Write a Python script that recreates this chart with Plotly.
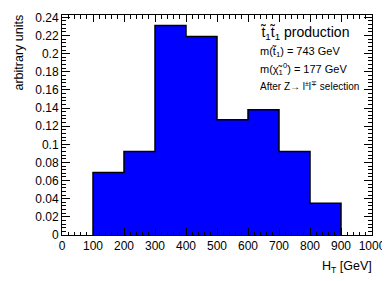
import plotly.graph_objects as go

bin_edges = [100, 200, 300, 400, 500, 600, 700, 800, 900]
bin_values = [0.069, 0.092, 0.231, 0.219, 0.127, 0.138, 0.092, 0.035]
y_ticks = [0, 0.02, 0.04, 0.06, 0.08, 0.1, 0.12, 0.14, 0.16, 0.18, 0.2, 0.22, 0.24]
y_tick_labels = ["0", "0.02", "0.04", "0.06", "0.08", "0.1", "0.12", "0.14", "0.16", "0.18", "0.2", "0.22", "0.24"]
x_ticks = [0, 100, 200, 300, 400, 500, 600, 700, 800, 900, 1000]
x_tick_labels = [str(v) for v in x_ticks]

xs = [bin_edges[0]] + bin_edges[:-1] + [bin_edges[-1], bin_edges[-1]]
ys = [0] + bin_values + [bin_values[-1], 0]

FONT = "Liberation Sans, Arial, Helvetica, sans-serif"

fig = go.Figure()
fig.add_trace(go.Scatter(
    x=xs, y=ys, mode="lines", line=dict(shape="hv", color="black", width=1.5),
    fill="tozeroy", fillcolor="#0000ff", hoverinfo="skip", showlegend=False,
))

# page has an 8px body margin; work in page pixels and convert
OFF = 8
PAGE_W, PAGE_H = 390, 281
W, H = PAGE_W - OFF, PAGE_H - OFF
plot_left, plot_right, plot_top, plot_bottom = 62, 372, 14.5, 235.5  # page pixels
L = plot_left - OFF
R = PAGE_W - plot_right
T = plot_top - OFF
B = PAGE_H - plot_bottom
pw = plot_right - plot_left
ph = plot_bottom - plot_top

def px(xpix):
    return (xpix - plot_left) / pw

def py(ypix):
    return (plot_bottom - ypix) / ph

fig.update_layout(
    width=W, height=H, margin=dict(l=L, r=R, t=T, b=B, autoexpand=False),
    paper_bgcolor="white", plot_bgcolor="white",
    font=dict(family=FONT, size=12, color="black"),
    xaxis=dict(
        range=[0, 1000], tickvals=x_ticks, ticktext=x_tick_labels, automargin=False,
        ticks="inside", ticklen=7, tickwidth=1, tickcolor="black",
        mirror="allticks", showline=True, linecolor="black", linewidth=1,
        showgrid=False, zeroline=False,
        minor=dict(ticks="inside", dtick=20, ticklen=3.5, tickcolor="black", showgrid=False),
        tickfont=dict(size=12),
    ),
    yaxis=dict(
        range=[0, 0.2426], tickvals=y_ticks, ticktext=y_tick_labels, automargin=False,
        ticks="inside", ticklen=8, tickwidth=1, tickcolor="black",
        mirror="allticks", showline=True, linecolor="black", linewidth=1,
        showgrid=False, zeroline=False,
        minor=dict(ticks="inside", dtick=0.004, ticklen=4, tickcolor="black", showgrid=False),
        tickfont=dict(size=12),
    ),
)

annots = [
    dict(text="H<sub>T</sub> [GeV]", x=px(374), y=py(268), xanchor="right", yanchor="middle", size=12.5, angle=0),
    dict(text="arbitrary units", x=px(19), y=py(12), xanchor="center", yanchor="top", size=12.5, angle=-90),
    dict(text="t\u0303<sub>1</sub>t\u0303<sub>1</sub> production", x=px(258), y=py(33), xanchor="left", yanchor="middle", size=14, angle=0),
    dict(text="m(t\u0303<sub>1</sub>) = 743 GeV", x=px(258), y=py(52), xanchor="left", yanchor="middle", size=11, angle=0),
    dict(text="m(\u03c7\u0303<sub>1</sub><sup>0</sup>) = 177 GeV", x=px(258), y=py(69), xanchor="left", yanchor="middle", size=11, angle=0),
    dict(text="After Z\u2192 l<sup>\u00b1</sup>l<sup>\u2213</sup> selection", x=px(258), y=py(86), xanchor="left", yanchor="middle", size=10, angle=0),
]
for a in annots:
    fig.add_annotation(text=a["text"], x=a["x"], y=a["y"], xref="paper", yref="paper",
                       xanchor=a["xanchor"], yanchor=a["yanchor"], showarrow=False,
                       textangle=a["angle"], font=dict(family=FONT, size=a["size"], color="black"))

fig.write_html("out.html")
